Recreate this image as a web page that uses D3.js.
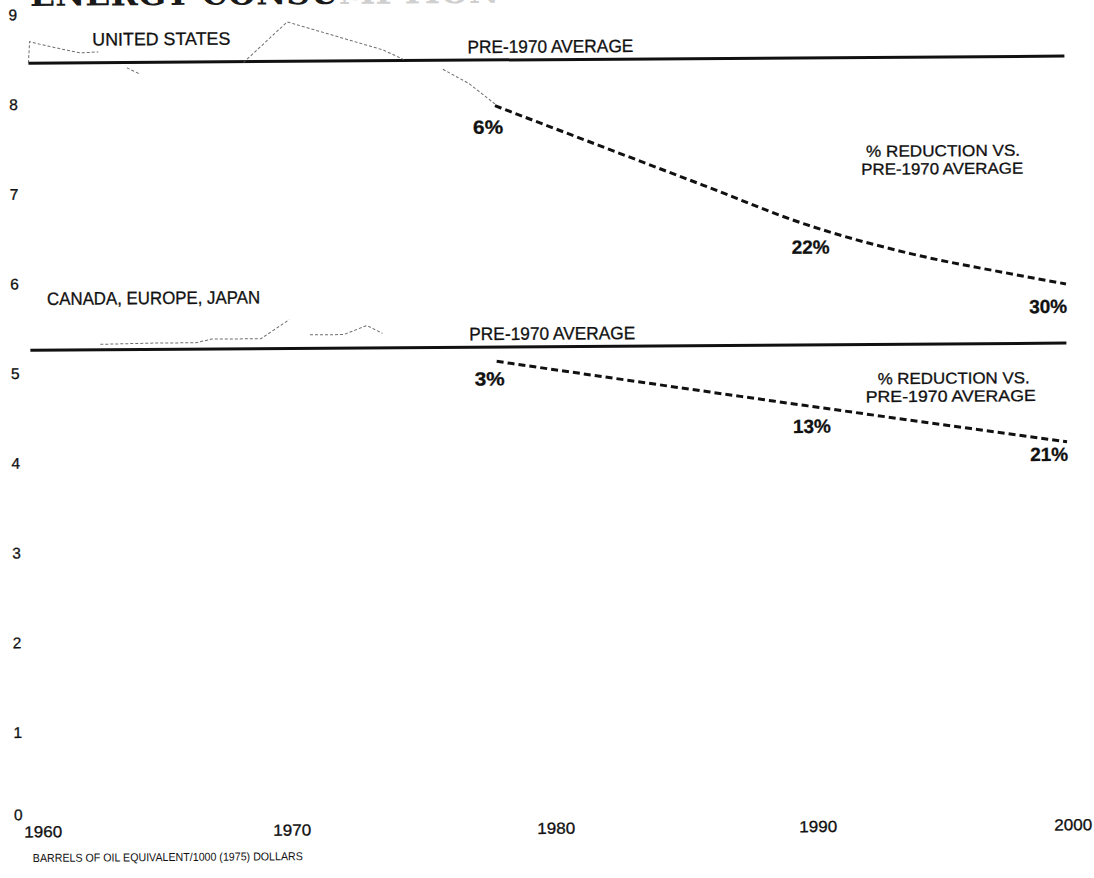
<!DOCTYPE html>
<html>
<head>
<meta charset="utf-8">
<script src="https://cdn.jsdelivr.net/npm/d3@7/dist/d3.min.js"></script>
<style>
  html, body { margin: 0; padding: 0; background: #fff; }
  svg { display: block; }
  text { font-family: "Liberation Sans", Arial, Helvetica, sans-serif; fill: #111; }
  .ink { stroke: #111; stroke-width: 0.3px; }
</style>
</head>
<body>
<svg id="chart" width="1094" height="878"></svg>
<script>
// ---------------- DATA ----------------
const xTickYears = [1960, 1970, 1980, 1990, 2000];
const yTickValues = [0, 1, 2, 3, 4, 5, 6, 7, 8, 9];

const usAverage = 8.46;    // pre-1970 average, United States
const cejAverage = 5.26;   // pre-1970 average, Canada/Europe/Japan

// historical (thin, faint) series; null = gap in the printed line
const usActual = [
  [1960, 8.46], [1960.05, 8.70], [1960.3, 8.68], [1961.35, 8.61], [1962, 8.57], [1962.7, 8.58],
  null,
  [1963.8, 8.40], [1964.3, 8.33],
  null,
  [1968.3, 8.45], [1970.0, 8.90], [1973.7, 8.58], [1974.5, 8.47],
  null,
  [1976.0, 8.36], [1977.0, 8.20], [1978.0, 7.97]
];
const cejActual = [
  [1962.7, 5.32], [1964.8, 5.33], [1966.4, 5.33], [1967.0, 5.37], [1968.9, 5.37], [1970.0, 5.58],
  null,
  [1970.8, 5.41], [1972.1, 5.41], [1973.0, 5.51], [1973.6, 5.42]
];

// projections (dashed)
const usProjection = [[1978, 7.95], [1982, 7.50], [1986, 7.05], [1990, 6.60], [1994, 6.27], [1998, 6.03], [2000, 5.92]];
const cejProjection = [[1978, 5.10], [1990, 4.58], [2000, 4.16]];

const usReductionLabels = ["6%", "22%", "30%"];
const usReductionYears = [1978, 1990, 2000];
const cejReductionLabels = ["3%", "13%", "21%"];
const cejReductionYears = [1978, 1990, 2000];

const titleText = ["ENERGY CONSU", "MPTION"];
const unitsText = "BARRELS OF OIL EQUIVALENT/1000 (1975) DOLLARS";

// ---------------- LAYOUT ----------------
const W = 1094, H = 878;
const x = d3.scaleLinear().domain([1960, 2000]).range([31, 1067]);
const y = d3.scaleLinear().domain([0, 9]).range([822, 14.7]);

const svg = d3.select("#chart");
svg.append("rect").attr("width", W).attr("height", H).attr("fill", "#fff");

// whole scanned page is slightly tilted
const g = svg.append("g").attr("transform", "rotate(-0.39, 30, 440)");

// cut-off title at top edge
const title = g.append("text")
  .attr("x", 33).attr("y", 6)
  .style("font-family", "'DejaVu Serif', 'Liberation Serif', serif")
  .style("font-weight", "bold")
  .style("font-size", "33px");
title.append("tspan").attr("fill", "#1a1a1a").text(titleText[0]);
title.append("tspan").attr("fill", "#cfcfcf").text(titleText[1]);

// Y axis labels
const yAxis = d3.axisLeft(y).tickValues(yTickValues).tickSize(0).tickPadding(0).tickFormat(d3.format("d"));
const yG = g.append("g").attr("transform", "translate(20,0)").call(yAxis);
yG.select(".domain").remove();
yG.selectAll("text").attr("class", "ink").style("font-size", "15.5px")
  .style("font-family", "'Liberation Sans', Arial, sans-serif").attr("fill", "#111");
yG.selectAll(".tick").filter(d => d === 0).select("text").attr("dy", "-0.15em");

// X axis labels
const xLabelDx = [9, -1, 4, 7, 3];
const xAxis = d3.axisBottom(x).tickValues(xTickYears).tickSize(0).tickPadding(0).tickFormat(d3.format("d"));
const xG = g.append("g").attr("transform", "translate(0,826)").call(xAxis);
xG.select(".domain").remove();
xG.selectAll("text").attr("class", "ink").style("font-size", "16px")
  .style("font-family", "'Liberation Sans', Arial, sans-serif")
  .attr("fill", "#111").attr("dx", (d, i) => xLabelDx[i])
  .attr("textLength", 38).attr("lengthAdjust", "spacingAndGlyphs");

// average lines
[usAverage, cejAverage].forEach(v => {
  g.append("line")
    .attr("x1", x(1960)).attr("x2", x(2000))
    .attr("y1", y(v)).attr("y2", y(v))
    .attr("stroke", "#111").attr("stroke-width", 3);
});

// historical faint lines
const thin = d3.line().defined(d => d !== null).x(d => x(d[0])).y(d => y(d[1]));
[usActual, cejActual].forEach(s => {
  g.append("path").attr("d", thin(s))
    .attr("fill", "none").attr("stroke", "#555").attr("stroke-width", 1)
    .attr("stroke-dasharray", "3,2").attr("opacity", 0.85);
});

// projections
const proj = d3.line().x(d => x(d[0])).y(d => y(d[1])).curve(d3.curveMonotoneX);
[usProjection, cejProjection].forEach(s => {
  g.append("path").attr("d", proj(s))
    .attr("fill", "none").attr("stroke", "#111").attr("stroke-width", 3)
    .attr("stroke-dasharray", "7,4");
});

// reduction percentage labels
const pctAnchor = ["middle", "middle", "end"];
const pctDx = [-7, 4, 1];
const usPctDy = [28, 29, 29];
const cejPctDy = [24, 27, 19];
function valueAt(series, yr) { const p = series.find(d => d[0] === yr); return p[1]; }
function pct(series, years, labels, dys) {
  labels.forEach((t, i) => {
    const yr = years[i];
    g.append("text").attr("class", "ink")
      .attr("x", x(yr) + pctDx[i]).attr("y", y(valueAt(series, yr)) + dys[i])
      .attr("text-anchor", pctAnchor[i]).style("font-weight", "bold").style("font-size", "19px")
      .attr("textLength", t.length === 2 ? 30 : 38).attr("lengthAdjust", "spacingAndGlyphs").text(t);
  });
}
pct(usProjection, usReductionYears, usReductionLabels, usPctDy);
pct(cejProjection, cejReductionYears, cejReductionLabels, cejPctDy);

// annotations
function label(txt, px, py, anchor, len) {
  g.append("text").attr("class", "ink").attr("x", px).attr("y", py).attr("text-anchor", anchor)
    .style("font-size", "18px")
    .attr("textLength", len).attr("lengthAdjust", "spacingAndGlyphs").text(txt);
}
function label2(lines, px, py, lens, dxs) {
  lines.forEach((ln, i) => {
    g.append("text").attr("class", "ink").attr("text-anchor", "middle").style("font-size", "16px")
      .attr("x", px + dxs[i]).attr("y", py + i * 17.9)
      .attr("textLength", lens[i]).attr("lengthAdjust", "spacingAndGlyphs").text(ln);
  });
}
label("UNITED STATES", 95, 46, "start", 138);
label("PRE-1970 AVERAGE", 470, y(usAverage) - 7, "start", 166);
label("CANADA, EUROPE, JAPAN", 48, 305, "start", 213);
label("PRE-1970 AVERAGE", 470, y(cejAverage) - 7, "start", 166);

label2(["% REDUCTION VS.", "PRE-1970 AVERAGE"], 945, 162.5, [154, 162], [0, -1]);
label2(["% REDUCTION VS.", "PRE-1970 AVERAGE"], 953, 390, [152, 170], [1, -2]);

// units caption
g.append("text").attr("x", 30).attr("y", 862)
  .attr("textLength", 270).attr("lengthAdjust", "spacingAndGlyphs")
  .style("font-size", "11.5px").text(unitsText);
</script>
</body>
</html>
